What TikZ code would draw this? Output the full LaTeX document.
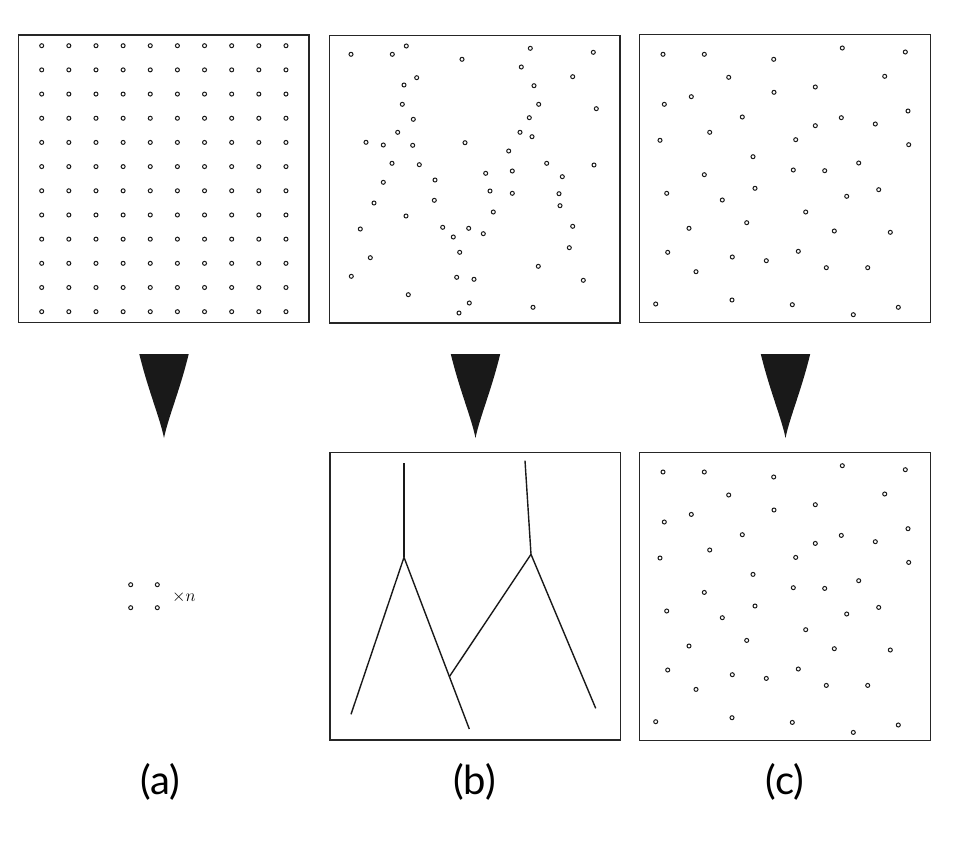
\documentclass[tikz,border=0pt]{standalone}
\usepackage{fontspec}
\newfontfamily\labelfont{Lato}
\usetikzlibrary{positioning,calc}
\tikzset{
    %Define style for the square panels
    panel/.style={
           rectangle,
           draw=black!85, line width=1.2pt,
           minimum width=290.5pt,
           minimum height=287.5pt,
           inner sep=0pt},
    % Define style for the small points
    spot/.style={
           draw=black!90, line width=1.0pt},
    % Define style for the black wedges
    wedge/.style={
           fill=black!90, draw=none},
    % Define style for the tree lines
    branch/.style={
           line width=1.4pt, black!90},
    % Define style for the captions
    caption/.style={
           font=\labelfont\fontsize{40}{46}\selectfont}
}
\newcommand{\wedgeat}[1]{%
  \fill[wedge] (#1-24.7,354) -- (#1+24.7,354)
     .. controls (#1+16,390) and (#1+4,418) .. (#1,438)
     .. controls (#1-4,418) and (#1-16,390) .. cycle;}

\begin{document}
\begin{tikzpicture}[x=1pt,y=-1pt]
\useasboundingbox (0,0) rectangle (958,843);
% panels
\node [panel] (pa) at (163.75,178.75) {};
\node [panel] (pb) at (474.75,179.25) {};
\node [panel] (pc) at (785.1,178.5) {};
\node [panel] (qb) at (475.25,596.25) {};
\node [panel] (qc) at (785.1,596.5) {};
% regular grid
\foreach \i in {0,...,9}
  \foreach \j in {0,...,11}
    \draw[spot] (41.7+27.14*\i,45.7+24.18*\j) circle (2.0);
% random points
\foreach \x/\y in {351/54.3, 392.3/54.3, 406.3/46, 462/59.3, 530.3/48.3, 593.3/52.3,
    521.3/67, 416.7/77.7, 572.7/76.7, 404/85, 534/85.7, 402.3/104.3, 538.7/104.3,
    596.3/108.7, 413.3/119.3, 529.3/117.7, 397.7/132.3, 520/132.3, 532/136.7,
    366/142.3, 383.3/145, 412.7/145.3, 465/142.7, 508.7/151, 392/163.3, 419.3/164.7,
    546.7/163.3, 594/165, 485.7/173.3, 512.3/171, 562.3/176.7, 435/180, 383.3/182.3,
    490/191, 512.3/193.3, 559/193.7, 374/203, 434.3/200.3, 560/205.7, 406/216,
    493.3/212, 360.3/229, 442.7/227.3, 468.7/228.3, 453.3/237, 483.3/233.7,
    572.7/226.3, 370.3/257.7, 459.7/252.3, 569.3/247.7, 538.3/266.3, 351.3/276.3,
    456.7/277.3, 474/279.3, 583.3/280.3, 408.3/294.7, 469.3/303, 533/307.3, 459/313}
  \draw[spot] (\x,\y) circle (2.0);
% spread points, top and bottom
\foreach \dy in {0,417.7}
  \foreach \x/\y in {663/54.3, 704.3/54.3, 773.7/59.3, 842.3/48, 905.3/52, 728.7/77.3,
      884.7/76.3, 774/92.3, 815.3/87, 691.3/96.7, 664.3/104.3, 908/111, 742.3/117,
      841.3/117.7, 815.3/125.7, 875.3/124, 709.7/132.3, 660/140.3, 795.7/139.7,
      908.7/144.7, 753/156.7, 793.3/170, 824.7/170.7, 858.7/163, 704.3/174.7,
      666.7/193.3, 755/188.3, 722.3/200, 846.7/196.3, 878.7/189.7, 805.7/212,
      689/228.3, 746.7/222.7, 834.3/231, 890.3/232.3, 667.7/252.3, 732.3/257,
      766.3/260.7, 798.3/251.3, 826.3/267.7, 867.7/267.7, 696/271.7, 655.7/304,
      732/300, 792.3/304.7, 853.3/314.7, 898.3/307.3}
    \draw[spot] (\x,\y+\dy) circle (2.0);
% wedges
\wedgeat{164}
\wedgeat{475.5}
\wedgeat{785.5}
% small block of four
\foreach \x/\y in {130.7/584.7, 157.3/584.7, 130.7/607.7, 157.3/607.7}
  \draw[spot] (\x,\y) circle (2.0);
\node [font=\fontsize{16}{18}\selectfont] (times) at (184,597) {$\times n$};
% tree lines
\coordinate (t1) at (404,463.3);
\coordinate (j1) at (404,557.3);
\coordinate (l1) at (351,714.3);
\coordinate (r1) at (469.3,729);
\coordinate (t2) at (525,460.7);
\coordinate (j2) at (531,554.3);
\coordinate (r2) at (595.7,708.3);
\coordinate (m) at ($(j1)!0.695!(r1)$);
\draw[branch] (t1) -- (j1);
\draw[branch] (l1) -- (j1) -- (r1);
\draw[branch] (t2) -- (j2) -- (r2);
\draw[branch] (j2) -- (m);
% captions
\node [caption] (la) at (160,782) {(a)};
\node [caption] (lb) at (474.5,782) {(b)};
\node [caption] (lc) at (785,782) {(c)};
\end{tikzpicture}
\end{document}
